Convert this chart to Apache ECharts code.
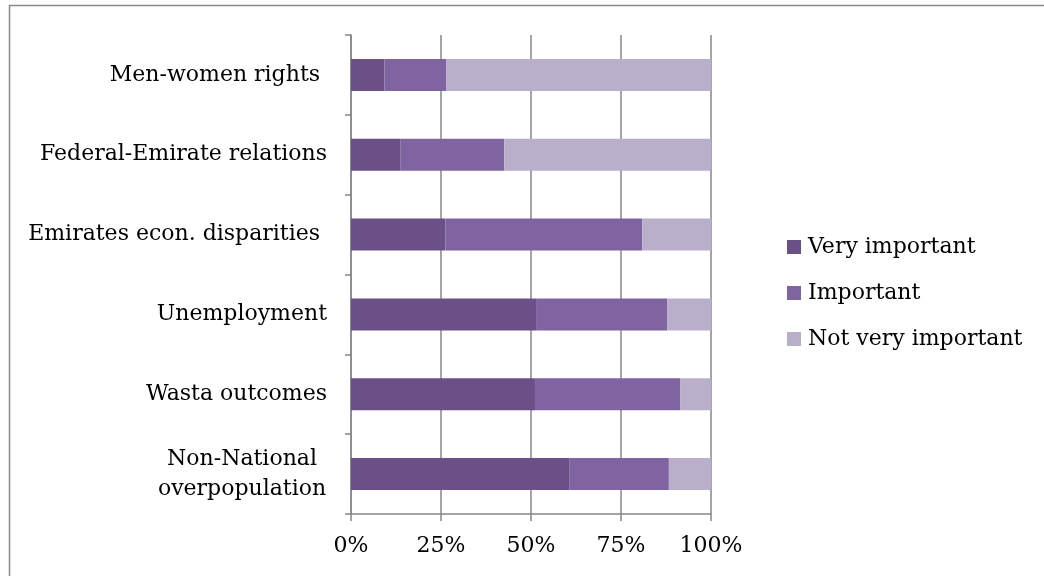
<!DOCTYPE html>
<html>
<head>
<meta charset="utf-8">
<script src="https://cdn.jsdelivr.net/npm/echarts@6/dist/echarts.min.js"></script>
<style>
  html, body { margin: 0; padding: 0; background: #fff; }
  #chart { width: 1044px; height: 576px; }
</style>
</head>
<body>
<div id="chart"></div>
<script>
// categories bottom -> top (category axis on y draws first item at bottom)
var categories = [
  'Non-National\noverpopulation',
  'Wasta outcomes',
  'Unemployment',
  'Emirates econ. disparities ',
  'Federal-Emirate relations',
  'Men-women rights '
];
var veryImportant = [60.6, 51.1, 51.4, 26.2, 13.8, 9.3];
var important = [27.7, 40.3, 36.4, 54.7, 28.8, 17.1];
var notVeryImportant = [11.7, 8.6, 12.2, 19.1, 57.4, 73.6];
var seriesNames = ['Very important', 'Important', 'Not very important'];
var xTicks = [0, 25, 50, 75, 100];

var FONT = 'DejaVu Serif';
var GRAY = '#878787';

var chart = echarts.init(document.getElementById('chart'));

function mkSeries(name, data, color) {
  return {
    name: name,
    type: 'bar',
    stack: 'total',
    barWidth: '40%',
    data: data,
    itemStyle: { color: color },
    emphasis: { disabled: true }
  };
}

var option = {
  animation: false,
  textStyle: { fontFamily: FONT },
  // only top + left edges of the frame are visible in the picture
  graphic: [{
    type: 'polyline',
    shape: { points: [[9.5, 580], [9.5, 5.5], [1050, 5.5]] },
    style: { fill: 'none', stroke: '#8a8a8a', lineWidth: 1.5 },
    silent: true
  }],
  legend: {
    orient: 'vertical',
    left: 787,
    top: 236,
    padding: 0,
    itemWidth: 14,
    itemHeight: 14,
    itemGap: 24,
    icon: 'rect',
    data: seriesNames,
    textStyle: { fontFamily: FONT, fontSize: 22, color: '#000', padding: [0, 0, 0, 2] }
  },
  grid: { left: 351, top: 35, width: 360, height: 479, containLabel: false },
  xAxis: {
    type: 'value',
    min: xTicks[0],
    max: xTicks[xTicks.length - 1],
    interval: 25,
    axisLine: { show: true, lineStyle: { color: GRAY, width: 1.5 } },
    axisTick: { show: true, length: 7, lineStyle: { color: GRAY, width: 1.5 } },
    splitLine: { show: true, lineStyle: { color: GRAY, width: 1.5 } },
    axisLabel: {
      formatter: '{value}%',
      fontFamily: FONT,
      fontSize: 22,
      color: '#000',
      margin: 21
    }
  },
  yAxis: {
    type: 'category',
    data: categories,
    axisLine: { show: true, lineStyle: { color: GRAY, width: 1.5 } },
    axisTick: { show: true, length: 6, lineStyle: { color: GRAY, width: 1.5 } },
    axisLabel: {
      fontFamily: FONT,
      fontSize: 22,
      lineHeight: 30,
      color: '#000',
      margin: 24,
      align: 'right',
      formatter: function (v) {
        if (v.indexOf('\n') < 0) return v;
        return v.split('\n').map(function (s) { return '{c|' + s + '}'; }).join('\n');
      },
      rich: {
        c: { width: 170, align: 'center', fontFamily: FONT, fontSize: 22, lineHeight: 30, color: '#000' }
      }
    }
  },
  series: [
    mkSeries(seriesNames[0], veryImportant, '#6a5086'),
    mkSeries(seriesNames[1], important, '#8064a1'),
    mkSeries(seriesNames[2], notVeryImportant, '#b9afca')
  ]
};

chart.setOption(option);
window.addEventListener('resize', function () { chart.resize(); });
</script>
</body>
</html>
